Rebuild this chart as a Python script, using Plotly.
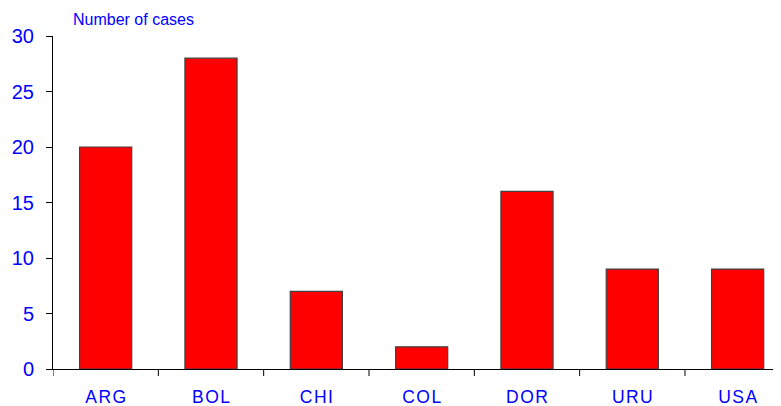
import plotly.graph_objects as go

categories = ["ARG", "BOL", "CHI", "COL", "DOR", "URU", "USA"]
cases = [20, 28, 7, 2, 16, 9, 9]
y_ticks = [0, 5, 10, 15, 20, 25, 30]

HS = "\u200a"
labels = [HS.join(c) for c in categories]

# page body has an 8px margin, so the figure is sized to fit the 781x406 window
fig = go.Figure(go.Bar(
    x=list(range(len(categories))),
    y=cases,
    width=0.495,
    marker=dict(color="#ff0000", line=dict(color="#404040", width=1.2)),
))

fig.update_layout(
    width=773, height=398,
    margin=dict(l=45, r=0, t=28, b=37),
    plot_bgcolor="white", paper_bgcolor="white",
    showlegend=False,
    font=dict(family="Liberation Sans, Arial, sans-serif", color="#0000ff"),
    xaxis=dict(
        range=[-0.5, 728 / 105.33 - 0.5],
        tickmode="array",
        tickvals=list(range(len(categories))),
        ticktext=labels,
        ticks="",
        showline=True, linecolor="#000000", linewidth=1,
        showgrid=False, zeroline=False,
        tickfont=dict(size=17.5, color="#0000ff"),
        ticklabelstandoff=12,
    ),
    yaxis=dict(
        range=[0, 30],
        tickvals=y_ticks,
        ticks="outside", ticklen=6, tickcolor="#000000", tickwidth=1,
        showline=True, linecolor="#000000", linewidth=1,
        showgrid=False, zeroline=False,
        tickfont=dict(size=20, color="#0000ff"),
        ticklabelstandoff=8,
    ),
    annotations=[dict(
        text="Number of cases", xref="paper", yref="paper",
        x=(71 - 53) / 728, y=1, xanchor="left", yanchor="bottom", yshift=6,
        showarrow=False, font=dict(size=16, color="#0000ff"),
    )],
)

# boundary tick marks on the category axis
for i in range(len(categories) + 1):
    fig.add_shape(type="line", xref="x", yref="paper",
                  x0=i - 0.5, x1=i - 0.5, y0=0, y1=-7 / 333,
                  line=dict(color="#000000", width=1))

fig.write_html("out.html")
